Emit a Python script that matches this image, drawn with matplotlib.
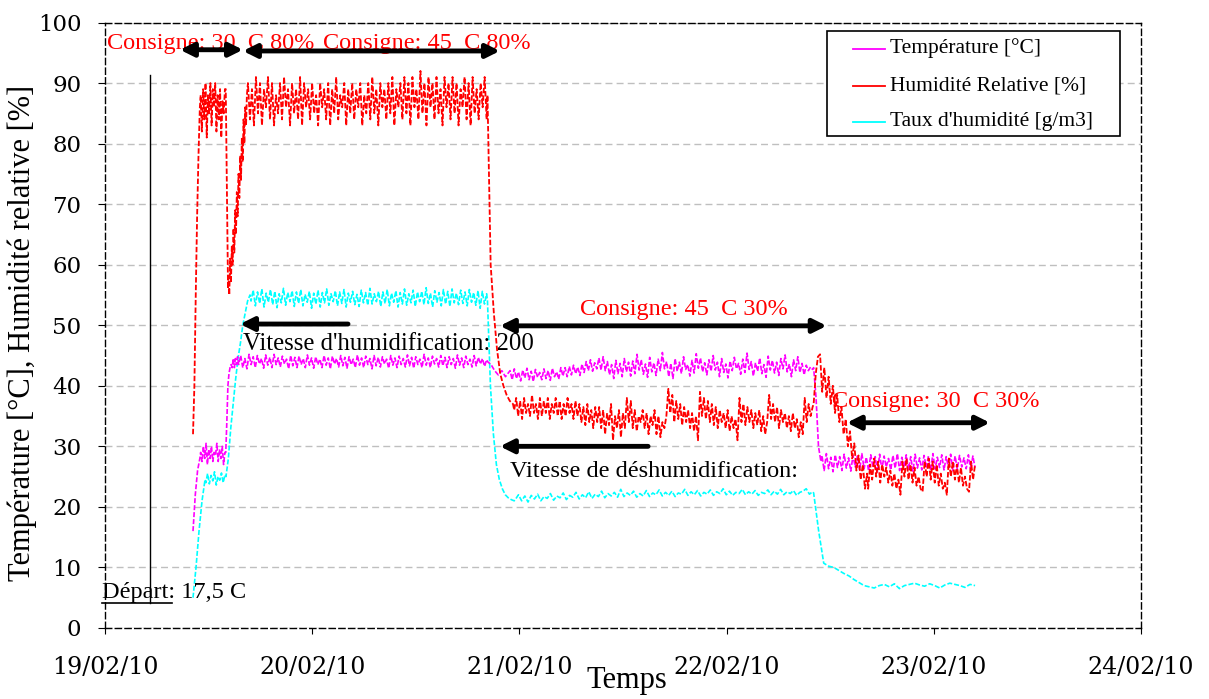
import numpy as np
import matplotlib
matplotlib.use("Agg")
import matplotlib.pyplot as plt

plt.rcParams['font.family'] = ['Liberation Serif', 'DejaVu Serif']

# time axis: days after 19/02/10 00:00
day_labels = ["19/02/10", "20/02/10", "21/02/10", "22/02/10", "23/02/10", "24/02/10"]

# ---- Humidite relative [%] : (start, end) of each piece + readings ----
hr_times = [(0.425, 0.458), (0.462, 0.579), (0.583, 0.594), (0.596, 0.685),
            (0.690, 1.842), (1.846, 1.969), (1.975, 3.415), (3.420, 3.678),
            (3.683, 4.199)]
hr_rise1 = [32, 40, 55, 68, 78, 86]
hr_step30 = [88, 82, 89, 84, 90, 81, 88, 85, 90, 83, 89, 86, 90, 82, 88, 84, 89, 81, 87, 85, 89]
hr_drop1 = [89, 72, 56]
hr_rise2 = [58, 55, 61, 57, 63, 60, 66, 62, 69, 65, 72, 68, 75, 71, 78, 74, 81, 77, 84, 80, 86, 83, 88]
hr_step45 = [90, 84, 89, 83, 91, 85, 90, 83, 89, 86, 91, 84, 90, 83, 88, 85, 90, 84, 91, 86,
             89, 83, 90, 85, 89, 84, 91, 83, 90, 86, 89, 84, 90, 85, 88, 83, 90, 86, 89, 84,
             90, 83, 89, 85, 91, 84, 88, 86, 90, 83, 89, 85, 90, 84, 89, 86, 90, 83, 88, 85,
             90, 84, 91, 85, 89, 83, 90, 86, 89, 84, 90, 85, 91, 83, 89, 86, 90, 84, 91, 85,
             90, 83, 91, 86, 89, 84, 92, 85, 90, 83, 91, 86, 90, 84, 91, 85, 89, 83, 91, 86,
             90, 84, 91, 85, 90, 83, 89, 86, 91, 84, 90, 83, 91, 85, 89, 84, 90, 86, 91, 84]
hr_drop2 = [88, 60, 52, 46, 42, 40, 38.5, 37.5, 37]
hr_step45_30 = [36, 38, 35, 37.5, 34.5, 38, 35.5, 37, 35, 38.5, 35.5, 37, 34.5, 38, 35, 37.5, 35.5, 38, 34.5, 37,
                35.5, 38, 35, 37.5, 34.5, 37, 35, 38, 35.5, 37, 34.5, 37.5, 35, 37, 34, 36.5, 33.5, 37, 34, 36,
                33, 36.5,
                34, 36.5, 33, 36, 32, 35.5, 33.5, 37, 31, 35, 33, 36, 31.5, 35.5, 33, 38, 34, 37.5, 33, 36, 32.5, 35,
                34, 36, 33, 35.5, 32, 35, 33.5, 36, 32, 35, 31.5, 34, 33, 35,
                39.5, 35.5, 38.5, 34, 37.5, 34.5, 37, 33.5, 36.5, 34, 36, 33, 35.5, 32.5, 35, 31,
                39, 35, 38, 34.5, 37.5, 34, 37, 33.5, 36.5, 33, 36, 34, 35.5, 33, 36, 32.5, 35, 33, 34.5, 31,
                38, 34, 37, 33.5, 36.5, 34, 36, 33, 35.5, 33.5, 36, 32.5, 35, 32, 34,
                38.5, 34.5, 37, 34, 36.5, 33, 36, 34, 35.5, 33, 35, 32.5, 35.5, 33, 34.5, 31.5, 34, 32,
                38, 34, 37, 35, 36.5]
hr_drop3 = [37, 42, 44.8, 45.2, 39, 43, 38, 41.5, 37, 40, 35.5, 38.5, 34, 36.5, 32, 34.5, 30, 32.5, 28, 30.5,
            26, 28.5, 24.5, 27, 23, 25.5]
hr_step30_30 = [23, 27, 24.5, 28, 25, 27.5, 24, 27, 25, 26.5, 24, 26, 23.5, 25.5, 23, 24.5, 22,
                27.5, 25, 28, 24.5, 27, 24, 26.5, 23.5, 25, 23, 22.5,
                27.5, 25, 28, 24.5, 27.5, 24, 27, 23.5, 25.5, 23, 24, 22,
                28, 25, 27.5, 24.5, 27, 24, 26.5, 23.5, 25, 23, 22.5,
                27.5, 24.5, 27]

# ---- Temperature [C] ----
t_times = [(0.425, 0.458), (0.462, 0.579), (0.583, 0.640), (0.645, 1.842),
           (1.846, 1.950), (1.955, 3.415), (3.420, 3.455), (3.460, 4.199)]
t_rise1 = [16, 22, 26, 28]
t_step30 = [29, 27.5, 30, 28, 30.5, 27, 29.5, 28, 30, 27.5, 29, 28.5, 30.5, 27.5, 29.5, 28, 30, 27, 29]
t_rise2 = [29, 34, 40, 42, 43, 43.5, 43, 44.5, 43, 44.5, 43.5, 44.8]
t_step45 = [43.5, 45, 43, 44.5, 42.8, 45.2, 43.5, 44.8, 43, 45, 43.6, 44.5, 42.9, 45.1, 43.4, 44.7, 43, 45.2, 43.5, 44.6,
            43.1, 44.9, 43.6, 44.4, 42.8, 45, 43.3, 44.7, 43, 44.9, 43.5, 44.5, 43, 45.1, 43.4, 44.6, 42.9, 44.8, 43.5, 44.4,
            43, 45, 43.4, 44.6, 42.8, 44.9, 43.6, 44.5, 43.1, 45, 43.3, 44.7, 42.9, 44.8, 43.5, 44.4, 43, 45.1, 43.4, 44.6,
            43, 44.9, 43.5, 44.5, 42.8, 45, 43.3, 44.7, 43.1, 44.8, 43.6, 44.4, 42.9, 45, 43.4, 44.6, 43, 44.9, 43.5, 44.5,
            43.1, 45.1, 43.3, 44.7, 42.9, 44.8, 43.5, 44.4, 43, 45.2, 43.4, 44.6, 43, 44.9, 43.6, 44.5, 43.1, 45, 43.3, 44.7,
            43, 44.8, 43.5, 44.5, 42.9, 45.1, 43.4, 44.6, 43, 44.9, 43.5, 44.4, 43.1, 45, 43.3, 44.7, 43.6, 44.5, 43.2, 44.3]
t_drop1 = [44, 43.5, 42.5, 41.8, 42.5, 41.5, 42.3]
t_step45_30 = [42.5, 41, 42.8, 41.2, 42.3, 40.8, 42.6, 41.3, 42.9, 41, 42.4, 40.7, 42.7, 41.4, 42.2, 41, 42.8, 41.2, 42.5, 40.9,
               42.9, 41.5, 42.3, 41.1, 43, 41.6,
               43, 41.5, 43.2, 41.8, 43.4, 42, 43.1, 41.7, 43.6, 42.2, 44, 42.5, 44.3, 42.4, 43.8, 42.8, 44.6, 42.6,
               44.8, 42.5, 44, 41.8, 43.5, 41.2, 44.2, 42, 43.7, 41.5, 44.5, 42.3, 43.9, 41.6, 44.1, 42, 45.2, 42.6, 44.3, 41.9,
               43.6, 41.4, 44.7, 42.3, 43.8, 41.7, 44.4, 42.5, 45.5, 42.8, 44, 41.5, 43.7, 41.2, 44.5, 42.4, 43.9, 42, 44.8, 42.7,
               43.5, 41.6, 44.2, 42.1, 45.3, 42.9, 44.6, 42.3, 43.8, 41.8, 44.3, 42.4, 45, 42.6, 43.9, 41.5, 44.5, 42.2, 43.6, 41.3,
               44.1, 42.5, 44.7, 42.8, 43.7, 41.9, 44.4, 42.2, 45.4, 42.7, 44, 41.6, 43.8, 42.4, 44.6, 42, 43.5, 41.4, 44.9, 42.6,
               44.2, 42.1, 43.9, 41.7, 44.5, 42.8, 45.1, 42.3, 43.6, 41.5, 44.3, 42.5, 44.8, 42.2, 43.7, 41.8, 43.4, 42.5, 43.1, 42.7]
t_drop2 = [43, 38, 30, 27.5]
t_step30_30 = [28.5, 26, 28.8, 26.3, 28.2, 25.8, 28.6, 26.5, 28.3, 26, 28.7, 26.4, 28.1, 25.9, 28.5, 26.6, 28.4, 26.1, 28.8, 26.3,
               28.2, 26, 28.6, 26.5, 28.3, 25.8, 28.7, 26.2, 28.4, 26.6, 28, 26.1, 28.5, 26.4, 28.8, 26, 28.2, 26.5, 28.6, 26.2,
               28.3, 25.9, 28.7, 26.4, 28.1, 26.1, 28.5, 26.6, 28.4, 26, 28.8, 26.3, 28.2, 26.5, 28.6, 26.1, 28.3, 26.4, 28.7, 26,
               28.4, 26.2, 28.5, 26.6, 28.1, 26.3, 28.6, 26, 28.4, 26.5]

# ---- Taux d'humidite [g/m3] ----
c_times = [(0.425, 0.483), (0.487, 0.579), (0.584, 0.700), (0.705, 1.842),
           (1.846, 1.975), (1.980, 3.415), (3.420, 4.199)]
c_rise1 = [5, 10, 16, 21, 24.5]
c_step30 = [24, 25.5, 23.8, 25.2, 24.3, 25.8, 23.6, 25, 24.4, 25.6, 24, 25.3]
c_rise2 = [25, 28, 33, 37, 41, 44.5, 47, 50, 52, 54, 55]
c_step45 = [54, 55.8, 53.2, 55.5, 53.6, 56, 53, 55.3, 53.8, 55.9, 53.4, 55.6, 52.9, 55.2, 53.7, 56.1, 53.3, 55.4, 53.9, 55.7,
            53.1, 55.5, 53.6, 55.9, 53.2, 55.1, 53.8, 55.6, 52.8, 55.3, 53.5, 55.8, 53, 55.4, 53.7, 56, 53.3, 55.2, 53.9, 55.7,
            53.2, 55.5, 53.6, 55.9, 53, 55.3, 53.8, 55.6, 53.4, 55.1, 53.1, 55.8, 53.7, 55.4, 53.3, 56.1, 53.5, 55.2, 53.9, 55.6,
            53.1, 55.5, 53.6, 55.9, 53.2, 55.3, 53.8, 55.7, 53, 55.4, 53.5, 56, 53.3, 55.2, 53.7, 55.8, 53.1, 55.5, 53.9, 55.6,
            53.4, 56.2, 53.6, 55.3, 53, 55.7, 53.8, 55.4, 53.2, 55.9, 53.5, 55.6, 53.1, 56, 53.7, 55.3, 53.4, 55.8, 53.6, 55.5,
            53.2, 55.9, 53.8, 55.4, 53.3, 55.7, 52.8, 55.6, 53.5, 55.2]
c_drop1 = [54, 40, 32, 27, 24.5, 23, 22, 21.5, 21.2, 21]
c_step45_30 = [21.2, 22, 21, 21.8, 20.8, 21.9, 21.3, 22.1, 21, 21.7, 21.4, 22.2, 21.1, 21.8, 21.5, 22.3, 21.2, 21.9, 21.6, 22.4,
               21.3, 22, 21.5, 22.5, 21.4, 22.1, 21.7, 22.6, 21.5, 22.2, 21.8, 22.4, 21.6, 22.9, 21.7, 22.3, 21.9, 22.6, 21.6, 22.2,
               21.8, 22.7, 21.7, 22.3, 22, 22.8, 21.8, 22.4, 21.9, 22.6, 21.7, 22.3, 22.1, 22.9, 21.9, 22.5, 22, 22.7, 21.8, 22.4,
               22.1, 22.8, 21.9, 22.5, 22.2, 23, 22, 22.6, 21.9, 22.4, 22.2, 22.9, 22, 22.5, 22.1, 22.7, 21.9, 22.4, 22.2, 22.8,
               22, 22.6, 22.1, 22.9, 22, 22.5, 22.2, 22.7, 21.9, 22.4, 22.6, 23, 22.1, 22.5]
c_step30_30 = [22.3, 16, 10.7, 10.2, 10, 9.5, 9, 8.6, 8, 7.5, 7, 6.8, 6.6, 7, 7.2, 6.8, 7.3, 6.5, 7, 7.2,
               7.4, 7.1, 6.9, 7.3, 7, 6.6, 7.1, 7.4, 7.2, 7, 6.7, 7.2, 7]

series_names = ["Température [°C]", "Humidité Relative [%]", "Taux d'humidité [g/m3]"]
series_colors = ['#FF00FF', '#FF0000', '#00FFFF']


def build(times, pieces):
    xs, ys = [], []
    for (t0, t1), vals in zip(times, pieces):
        xs.append(np.linspace(t0, t1, len(vals)))
        ys.append(np.array(vals, dtype=float))
    return np.concatenate(xs), np.concatenate(ys)


x_t, y_t = build(t_times, [t_rise1, t_step30, t_rise2, t_step45, t_drop1, t_step45_30, t_drop2, t_step30_30])
x_hr, y_hr = build(hr_times, [hr_rise1, hr_step30, hr_drop1, hr_rise2, hr_step45, hr_drop2,
                              hr_step45_30, hr_drop3, hr_step30_30])
x_c, y_c = build(c_times, [c_rise1, c_step30, c_rise2, c_step45, c_drop1, c_step45_30, c_step30_30])

fig = plt.figure(figsize=(12.09, 6.99), dpi=100)
ax = fig.add_axes([0.0868, 0.1016, 0.857, 0.8662])

dash = (0, (3, 1.2))
ax.plot(x_c, y_c, color=series_colors[2], lw=1.2, ls=dash, zorder=3)
ax.plot(x_t, y_t, color=series_colors[0], lw=1.2, ls=dash, zorder=4)
ax.plot(x_hr, y_hr, color=series_colors[1], lw=1.3, ls=dash, zorder=5)

ax.set_xlim(0, 5)
ax.set_ylim(0, 100)
ax.set_xticks(range(len(day_labels)))
ax.set_xticklabels(day_labels, fontsize=17, family='DejaVu Serif')
ax.set_yticks(range(0, 101, 10))
for lab in ax.get_yticklabels():
    lab.set_family('DejaVu Serif')
    lab.set_fontsize(16.5)
ax.tick_params(axis='y', length=5, pad=12, direction='out')
ax.tick_params(axis='x', length=4, pad=16, direction='out')
ax.grid(axis='y', color='#BFBFBF', ls=(0, (5, 3)), lw=1)
ax.set_axisbelow(True)
for s in ax.spines.values():
    s.set_linestyle((0, (4.5, 2.5)))
    s.set_linewidth(1)

ax.set_ylabel("Température [°C], Humidité relative [%]", fontsize=22)
ax.yaxis.set_label_coords(-0.0656, 0.487)
ax.set_xlabel("Temps", fontsize=22)
ax.xaxis.set_label_coords(0.504, -0.0635)

# annotations
red = '#FF0000'
fs = 17.5
ax.text(0.01, 96.6, "Consigne: 30  C 80%", color=red, fontsize=fs, va='center')
ax.text(1.052, 96.6, "Consigne: 45  C 80%", color=red, fontsize=fs, va='center')
ax.text(2.292, 52.6, "Consigne: 45  C 30%", color=red, fontsize=fs, va='center')
ax.text(3.509, 37.4, "Consigne: 30  C 30%", color=red, fontsize=fs, va='center')
ax.text(0.666, 46.9, "Vitesse d'humidification: 200", fontsize=17.8, va='center')
ax.text(1.955, 25.9, "Vitesse de déshumidification:", fontsize=fs, va='center')
ax.text(-0.014, 5.8, "Départ: 17,5 C", fontsize=fs, va='center', clip_on=False)
ax.plot([-0.014, 0.323], [4.1, 4.1], color='black', lw=1.2, clip_on=False)
ax.plot([0.217, 0.217], [4.1, 91.4], color='black', lw=1)

both = dict(arrowstyle='<|-|>', color='black', lw=3.5, mutation_scale=20, shrinkA=0, shrinkB=0)
one = dict(arrowstyle='-|>', color='black', lw=3.5, mutation_scale=20, shrinkA=0, shrinkB=0)
ax.annotate('', xy=(0.362, 95.5), xytext=(0.666, 95.5), arrowprops=both)
ax.annotate('', xy=(0.666, 95.3), xytext=(1.906, 95.3), arrowprops=both)
ax.annotate('', xy=(1.906, 49.9), xytext=(3.483, 49.9), arrowprops=both)
ax.annotate('', xy=(3.58, 33.9), xytext=(4.271, 33.9), arrowprops=both)
ax.annotate('', xy=(0.652, 50.2), xytext=(1.173, 50.2), arrowprops=one)
ax.annotate('', xy=(1.906, 30.0), xytext=(2.621, 30.0), arrowprops=one)

# legend box drawn by hand (Excel-like padding)
ax.add_patch(plt.Rectangle((0.697, 0.8125), 0.283, 0.1735, transform=ax.transAxes,
                           facecolor='white', edgecolor='black', lw=1.2, zorder=10))
row_y = [0.957, 0.8955, 0.8357]
for name, col, yy in zip(series_names, series_colors, row_y):
    ax.plot([0.722, 0.7525], [yy, yy], color=col, lw=1.3, transform=ax.transAxes, zorder=11)
    ax.text(0.7577, yy, name, fontsize=15.5, va='center', transform=ax.transAxes, zorder=11)

fig.savefig("out.png", dpi=100)
